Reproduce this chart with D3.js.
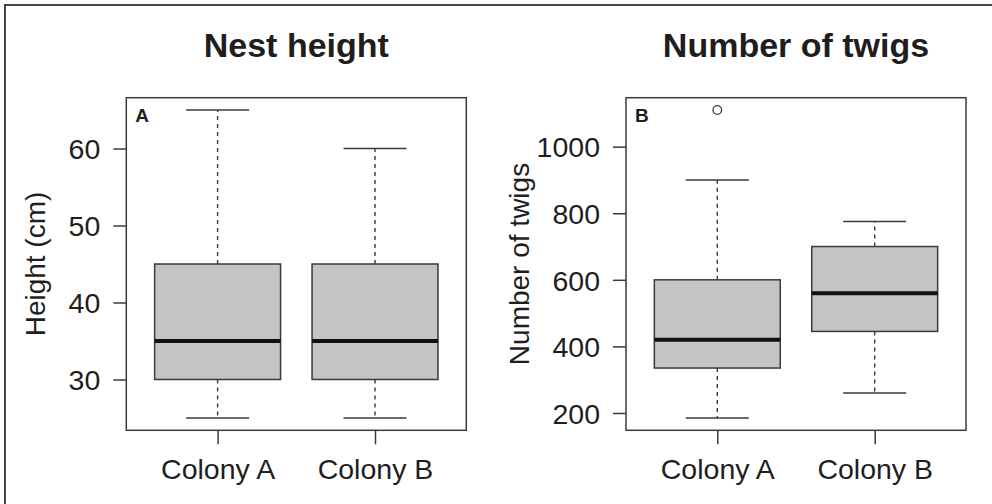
<!DOCTYPE html>
<html>
<head>
<meta charset="utf-8">
<script src="https://cdn.jsdelivr.net/npm/d3@7"></script>
<style>
  body { margin: 0; background: #fff; }
  svg { display: block; font-family: "Liberation Sans", Arial, sans-serif; }
</style>
</head>
<body>
<div class="container"></div>
<script>
const WIDTH = 992,
      HEIGHT = 504;

// data
var colonies = ['Colony A', 'Colony B'];
var titles = ['Nest height', 'Number of twigs'];
var yLabels = ['Height (cm)', 'Number of twigs'];
var panelTags = ['A', 'B'];

// [lower whisker, Q1, median, Q3, upper whisker]
var heightStats = [[25, 30, 35, 45, 65], [25, 30, 35, 45, 60]];
var twigStats = [[185, 335, 420, 600, 900], [260, 445, 560, 700, 775]];
var heightOutliers = [[], []];
var twigOutliers = [[1110], []];

var heightTicks = [30, 40, 50, 60];
var twigTicks = [200, 400, 600, 800, 1000];

var heightDomain = [23.4, 66.6];
var twigDomain = [148, 1147];

var panels = [
  {stats: heightStats, outliers: heightOutliers, ticks: heightTicks, domain: heightDomain, left: 126.3, labelX: 45},
  {stats: twigStats, outliers: twigOutliers, ticks: twigTicks, domain: twigDomain, left: 626, labelX: 529}
];

const PLOT_W = 340, TOP = 97.7, BOTTOM = 430.3;
const INK = '#1e1e1e', LINE = '#3a3a3a';

var svg = d3.select('.container').append('svg')
    .attr('width', WIDTH).attr('height', HEIGHT);

// outer frame (only top and left edges visible)
svg.append('path')
    .attr('d', 'M5,' + HEIGHT + 'V5H' + WIDTH)
    .attr('fill', 'none').attr('stroke', '#444').attr('stroke-width', 2);

panels.forEach(function(p, i) {
  var g = svg.append('g');
  var x = d3.scaleLinear().domain([0.42, 2.58]).range([p.left, p.left + PLOT_W]);
  var y = d3.scaleLinear().domain(p.domain).range([BOTTOM, TOP]);

  // boxes
  p.stats.forEach(function(s, j) {
    var c = x(j + 1);
    var bw = x(1.4) - x(1), cw = x(1.2) - x(1);
    // whiskers (dashed)
    g.append('line').attr('x1', c).attr('x2', c).attr('y1', y(s[3])).attr('y2', y(s[4]))
      .attr('stroke', LINE).attr('stroke-width', 1.4).attr('stroke-dasharray', '4,4');
    g.append('line').attr('x1', c).attr('x2', c).attr('y1', y(s[1])).attr('y2', y(s[0]))
      .attr('stroke', LINE).attr('stroke-width', 1.4).attr('stroke-dasharray', '4,4');
    // caps
    [s[0], s[4]].forEach(function(v) {
      g.append('line').attr('x1', c - cw).attr('x2', c + cw).attr('y1', y(v)).attr('y2', y(v))
        .attr('stroke', LINE).attr('stroke-width', 1.5);
    });
    g.append('rect')
      .attr('x', c - bw).attr('width', 2 * bw)
      .attr('y', y(s[3])).attr('height', y(s[1]) - y(s[3]))
      .attr('fill', '#c4c4c4').attr('stroke', LINE).attr('stroke-width', 1.5);
    g.append('line').attr('x1', c - bw).attr('x2', c + bw).attr('y1', y(s[2])).attr('y2', y(s[2]))
      .attr('stroke', '#111').attr('stroke-width', 4);
    p.outliers[j].forEach(function(v) {
      g.append('circle').attr('cx', c).attr('cy', y(v)).attr('r', 4.3)
        .attr('fill', 'none').attr('stroke', LINE).attr('stroke-width', 1.3);
    });
  });

  // plot frame
  g.append('rect').attr('x', x(0.42)).attr('y', TOP)
    .attr('width', PLOT_W).attr('height', BOTTOM - TOP)
    .attr('fill', 'none').attr('stroke', LINE).attr('stroke-width', 1.5);

  // axes
  var yAxis = g.append('g').attr('transform', 'translate(' + p.left + ',0)')
    .call(d3.axisLeft(y).tickValues(p.ticks).tickFormat(d3.format('d')).tickSize(13).tickPadding(13));
  var xAxis = g.append('g').attr('transform', 'translate(0,' + BOTTOM + ')')
    .call(d3.axisBottom(x).tickValues([1, 2]).tickFormat(function(d) { return colonies[d - 1]; })
      .tickSize(14).tickPadding(8));
  [yAxis, xAxis].forEach(function(a) {
    a.select('.domain').remove();
    a.selectAll('line').attr('stroke', LINE).attr('stroke-width', 1.5);
    a.selectAll('text').attr('fill', INK).style('font-size', '28.5px')
      .style('font-family', '"Liberation Sans", Arial, sans-serif');
  });
  yAxis.selectAll('text').attr('dy', '0.36em');
  xAxis.selectAll('text').attr('dy', '0.92em');

  // title
  g.append('text').attr('x', p.left + PLOT_W / 2).attr('y', 56.5)
    .attr('text-anchor', 'middle').attr('fill', INK)
    .style('font-size', '34px').style('font-weight', 'bold')
    .text(titles[i]);

  // y label
  g.append('text')
    .attr('transform', 'translate(' + p.labelX + ',' + (TOP + BOTTOM) / 2 + ') rotate(-90)')
    .attr('text-anchor', 'middle').attr('fill', INK)
    .style('font-size', '28px')
    .text(yLabels[i]);

  // panel tag
  g.append('text').attr('x', p.left + 9).attr('y', 121.7)
    .attr('fill', INK).style('font-size', '19px').style('font-weight', 'bold')
    .text(panelTags[i]);
});
</script>
</body>
</html>
